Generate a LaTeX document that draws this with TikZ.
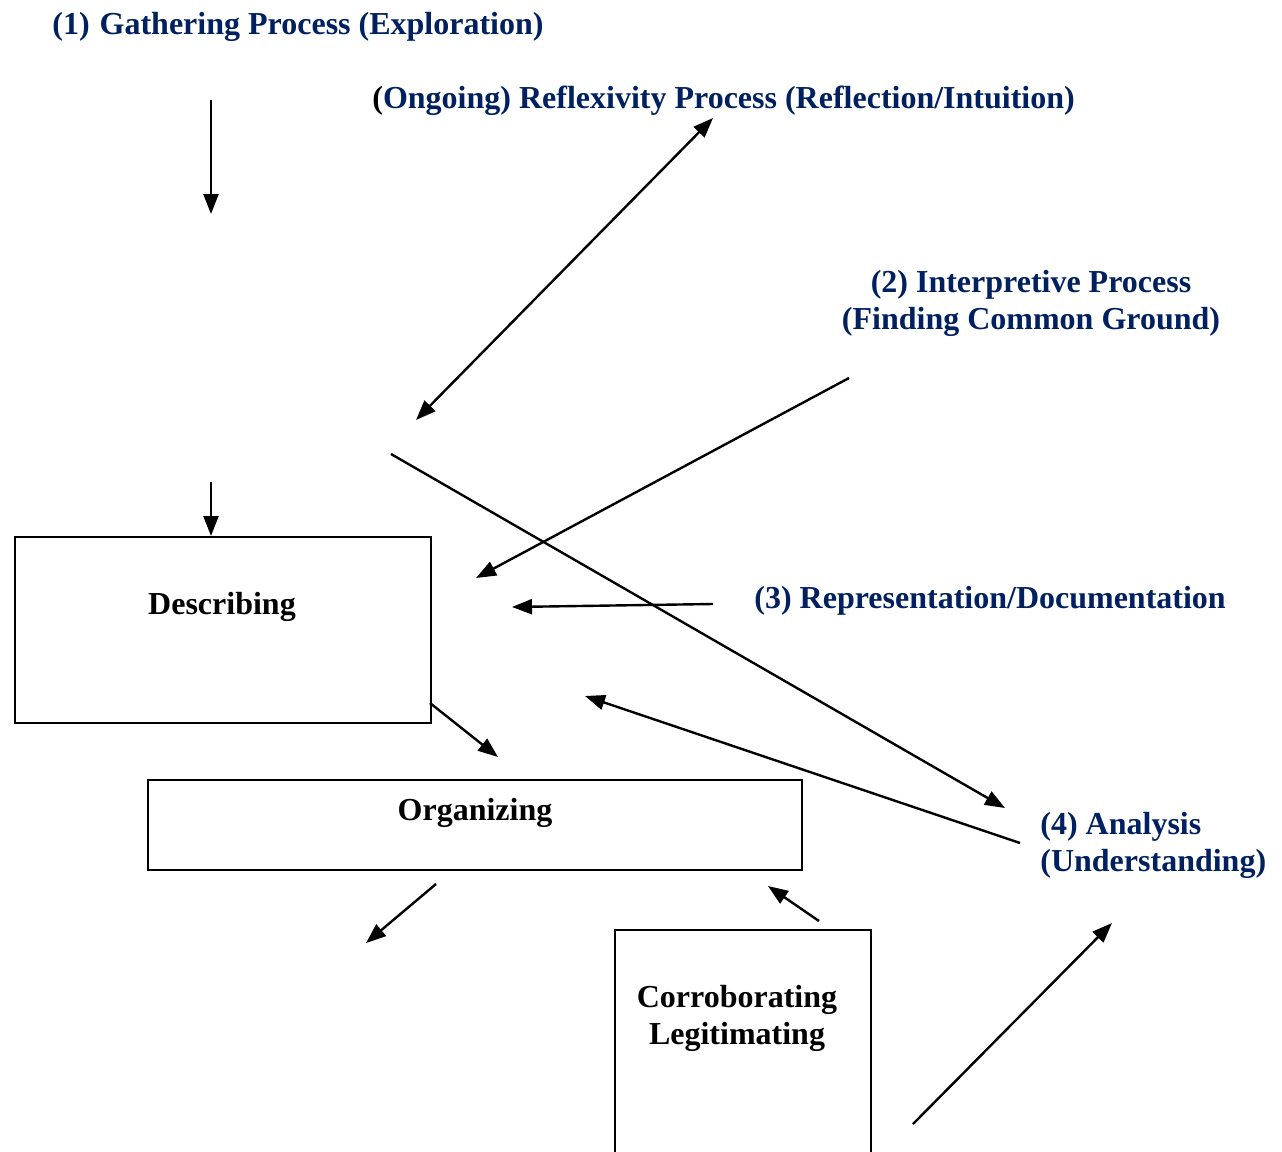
\documentclass[tikz,border=0pt]{standalone}
\usepackage{fontspec}
\setmainfont{Liberation Serif}
\usetikzlibrary{arrows.meta}
\definecolor{navy}{RGB}{0,32,96}
\tikzset{
	lbl/.style={font=\bfseries\fontsize{16}{18.5}\selectfont, text=navy, inner sep=0pt},
	txt/.style={font=\bfseries\fontsize{16}{18.5}\selectfont, inner sep=0pt},
	box/.style={draw, line width=1.1pt, inner sep=0pt, anchor=north west},
	arr/.style={line width=1.2pt, -{Triangle[length=10pt,width=7.5pt]}},
	dbl/.style={line width=1.2pt, {Triangle[length=10pt,width=7.5pt]}-{Triangle[length=10pt,width=7.5pt]}}
}
\begin{document}
\begin{tikzpicture}[x=0.5pt, y=-0.5pt]
		\useasboundingbox (0,0) rectangle (1282,1152);
		\clip (0,0) rectangle (1282,1152);

		\node[lbl, anchor=base west] (gather) at (52,34) {(1)\hspace{1pt} Gathering Process (Exploration)};
		\node[lbl, anchor=base west] (reflex) at (372,108) {{\color{black}(}Ongoing) Reflexivity Process (Reflection/Intuition)};
		\node[lbl, align=center] (interp) at (1031,303) {(2) Interpretive Process\\(Finding Common Ground)};
		\node[lbl, anchor=base west] (repr) at (754,608) {(3) Representation/Documentation};
		\node[lbl, align=left, anchor=west] (analysis) at (1040,845) {(4) Analysis\\(Understanding)};

		\node[box, minimum width=208pt, minimum height=93pt] (descbox) at (14,536) {};
		\node[box, minimum width=327pt, minimum height=45pt] (orgbox) at (147,779) {};
		\node[box, minimum width=128pt, minimum height=125pt] (corrbox) at (614,929) {};
		\node[txt, anchor=base] (desc) at (222,614) {Describing};
		\node[txt, anchor=base] (org) at (475,820) {Organizing};
		\node[txt, align=center] (corr) at (737,1018) {Corroborating\\Legitimating};

		\coordinate (g1) at (211,100);
		\coordinate (g2) at (211,214);
		\coordinate (g3) at (211,482);
		\coordinate (r1) at (713,118);
		\coordinate (r2) at (416,420);
		\coordinate (i1) at (849,378);
		\coordinate (i2) at (476,578);
		\coordinate (d1) at (713,604);
		\coordinate (d2) at (512,607);
		\coordinate (x1) at (391,454);
		\coordinate (x2) at (1005,808);
		\coordinate (a1) at (1020,843);
		\coordinate (a2) at (585,696);
		\coordinate (o1) at (430,703);
		\coordinate (o2) at (498,757);
		\coordinate (o3) at (436,884);
		\coordinate (o4) at (366,943);
		\coordinate (c1) at (819,921);
		\coordinate (c2) at (768,886);
		\coordinate (c3) at (913,1124);
		\coordinate (c4) at (1112,923);

		\path (g1) edge[arr] (g2)
		(g3) edge[arr] (descbox.north -| g3)
		(r1) edge[dbl] (r2)
		(i1) edge[arr] (i2)
		(d1) edge[arr] (d2)
		(x1) edge[arr] (x2)
		(a1) edge[arr] (a2)
		(o1) edge[arr] (o2)
		(o3) edge[arr] (o4)
		(c1) edge[arr] (c2)
		(c3) edge[arr] (c4);
	\end{tikzpicture}
\end{document}
